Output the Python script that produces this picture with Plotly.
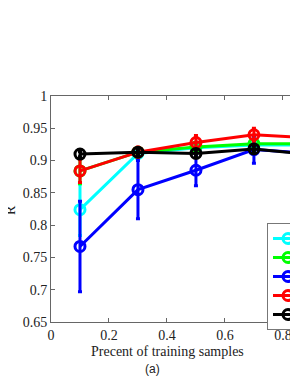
import plotly.graph_objects as go

x = [0.1, 0.3, 0.5, 0.7, 0.9]
names = ["Method 1", "Method 2", "Method 3", "Method 4", "Method 5"]
colors = ["#00FFFF", "#00FF00", "#0000FF", "#FF0000", "#000000"]
cyan = [0.824, 0.911, 0.920, 0.924, 0.924]
green = [0.884, 0.913, 0.921, 0.926, 0.926]
blue = [0.767, 0.855, 0.885, 0.917, 0.911]
red = [0.884, 0.913, 0.928, 0.940, 0.935]
black = [0.910, 0.913, 0.911, 0.918, 0.909]
cyan_err = [0.040, 0.005, 0.004, 0.004, 0.004]
green_err = [0.020, 0.005, 0.005, 0.004, 0.004]
blue_err = [0.070, 0.045, 0.024, 0.021, 0.010]
red_err = [0.018, 0.008, 0.011, 0.010, 0.006]
black_err = [0.004, 0.004, 0.005, 0.004, 0.004]

series = [cyan, green, blue, red, black]
errors = [cyan_err, green_err, blue_err, red_err, black_err]

ytickvals = [0.65, 0.7, 0.75, 0.8, 0.85, 0.9, 0.95, 1.0]
yticktext = ["0.65", "0.7", "0.75", "0.8", "0.85", "0.9", "0.95", "1"]
xtickvals = [0, 0.2, 0.4, 0.6, 0.8]
xticktext = ["0", "0.2", "0.4", "0.6", "0.8"]

fig = go.Figure()
for name, c, ys, es in zip(names, colors, series, errors):
    fig.add_trace(go.Scatter(
        x=x, y=ys, name=name, mode="lines+markers",
        line=dict(color=c, width=3),
        marker=dict(symbol="circle-open", size=10, color=c, line=dict(width=3, color=c)),
        error_y=dict(type="data", array=es, visible=True, color=c, thickness=3, width=2),
    ))

font = "Times New Roman, Liberation Serif, Nimbus Roman, serif"
W, H = 290, 369
L, T, B = 43, 88, 55
pw = W - L
ph = H - T - B
fig.update_layout(
    width=W, height=H,
    margin=dict(l=L, r=0, t=T, b=B, autoexpand=False),
    paper_bgcolor="white", plot_bgcolor="white",
    font=dict(family=font, size=14, color="#222"),
    showlegend=True,
    legend=dict(x=(259 - L) / pw, y=(T + ph - 215) / ph, xanchor="left", yanchor="top",
                bgcolor="white", bordercolor="#777", borderwidth=1,
                font=dict(family=font, size=9), tracegroupgap=0, itemwidth=30),
    xaxis=dict(range=[0, 0.852], tickvals=xtickvals, ticktext=xticktext,
               showgrid=False, zeroline=False, showline=True, linecolor="#666",
               linewidth=1, mirror="ticks", ticks="inside", ticklen=4, tickcolor="#666",
               tickfont=dict(family=font, size=14)),
    yaxis=dict(range=[0.65, 1.0], tickvals=ytickvals, ticktext=yticktext,
               showgrid=False, zeroline=False, showline=True, linecolor="#666",
               linewidth=1, ticks="inside", ticklen=4, tickcolor="#666",
               tickfont=dict(family=font, size=14)),
    annotations=[
        dict(text="Precent of training samples", x=(159 - L) / pw, y=-(343 - T - ph) / ph,
             xref="paper", yref="paper", showarrow=False, xanchor="center", yanchor="middle",
             font=dict(family=font, size=14, color="#222")),
        dict(text="R", x=(2 - L) / pw, y=(T + ph - 202) / ph, textangle=-90,
             xref="paper", yref="paper", showarrow=False, xanchor="center", yanchor="middle",
             font=dict(family=font, size=14, color="#222")),
        dict(text="(a)", x=(144 - L) / pw, y=-(361 - T - ph) / ph,
             xref="paper", yref="paper", showarrow=False, xanchor="center", yanchor="middle",
             font=dict(family="Liberation Sans, Arial, sans-serif", size=12, color="#222")),
    ],
)
fig.write_html("out.html")
